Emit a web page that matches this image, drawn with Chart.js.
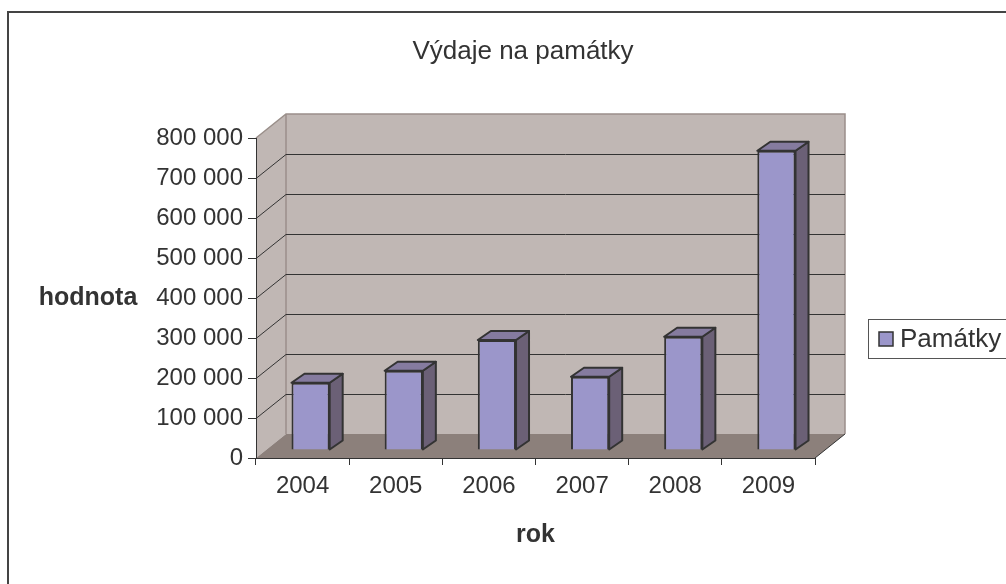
<!DOCTYPE html>
<html>
<head>
<meta charset="utf-8">
<script src="https://cdn.jsdelivr.net/npm/chart.js@4.4.1/dist/chart.umd.min.js"></script>
<style>
    html, body { margin: 0; padding: 0; background: #fff; }
</style>
</head>
<body>
<canvas id="chart-1" width="1006" height="584"></canvas>
<script>
// Data
const years = ["2004", "2005", "2006", "2007", "2008", "2009"];
const pamatky = [168000, 198000, 275000, 183000, 283000, 748000];
const yTickValues = [0, 100000, 200000, 300000, 400000, 500000, 600000, 700000, 800000];
const seriesLabel = "Památky";
const chartTitle = "Výdaje na památky";
const xTitle = "rok";
const yTitle = "hodnota";

const FONT = "'Liberation Sans', Arial, sans-serif";
const TEXT = "#333333";

// 3D look: depth of the walls, shift of the bar row, depth of a bar
const WALL_DX = 30, WALL_DY = -24;
const ROW_DX = 8, ROW_DY = -8;
const BAR_DX = 13, BAR_DY = -9;

Chart.defaults.font.family = FONT;

function fmt(v) {
    return String(v).replace(/\B(?=(\d{3})+(?!\d))/g, " ");
}

// walls, floor and grid behind everything
const walls = {
    id: "walls",
    beforeDraw(chart) {
        const { ctx, chartArea: a, scales: { y } } = chart;
        const L = a.left, R = a.right, T = a.top, B = a.bottom;
        ctx.save();
        ctx.fillStyle = "#fff";
        ctx.fillRect(0, 0, chart.width, chart.height);

        // back wall
        ctx.fillStyle = "#c0b7b4";
        ctx.fillRect(L + WALL_DX, T + WALL_DY, R - L, B - T);
        // left wall
        ctx.beginPath();
        ctx.moveTo(L, T);
        ctx.lineTo(L + WALL_DX, T + WALL_DY);
        ctx.lineTo(L + WALL_DX, B + WALL_DY);
        ctx.lineTo(L, B);
        ctx.closePath();
        ctx.fill();
        // floor
        ctx.fillStyle = "#8c807b";
        ctx.beginPath();
        ctx.moveTo(L, B);
        ctx.lineTo(L + WALL_DX, B + WALL_DY);
        ctx.lineTo(R + WALL_DX, B + WALL_DY);
        ctx.lineTo(R, B);
        ctx.closePath();
        ctx.fill();

        // wall edges
        ctx.strokeStyle = "#9a8f8a";
        ctx.lineWidth = 1.5;
        ctx.beginPath();
        ctx.moveTo(L, T);
        ctx.lineTo(L + WALL_DX, T + WALL_DY);
        ctx.lineTo(R + WALL_DX, T + WALL_DY);
        ctx.lineTo(R + WALL_DX, B + WALL_DY);
        ctx.moveTo(L + WALL_DX, T + WALL_DY);
        ctx.lineTo(L + WALL_DX, B + WALL_DY);
        ctx.stroke();

        // grid lines
        ctx.strokeStyle = "#333";
        ctx.lineWidth = 1;
        yTickValues.forEach(v => {
            if (v === 0 || v === yTickValues[yTickValues.length - 1]) return;
            const py = Math.round(y.getPixelForValue(v)) + 0.5;
            ctx.beginPath();
            ctx.moveTo(L, py);
            ctx.lineTo(L + WALL_DX, py + WALL_DY);
            ctx.lineTo(R + WALL_DX, py + WALL_DY);
            ctx.stroke();
        });
        // floor right edge
        ctx.beginPath();
        ctx.moveTo(R, B);
        ctx.lineTo(R + WALL_DX, B + WALL_DY);
        ctx.stroke();
        ctx.restore();
    }
};

// shift the bar row back and add top / side faces
const bars3d = {
    id: "bars3d",
    beforeDatasetsDraw(chart) {
        chart.ctx.save();
        chart.ctx.translate(ROW_DX, ROW_DY);
    },
    afterDatasetsDraw(chart) {
        const ctx = chart.ctx;
        chart.getDatasetMeta(0).data.forEach(bar => {
            const { x, y, base, width } = bar.getProps(["x", "y", "base", "width"], true);
            const l = x - width / 2, r = x + width / 2;
            ctx.lineWidth = 2;
            ctx.lineJoin = "round";
            ctx.strokeStyle = "#333";
            // side
            ctx.fillStyle = "#6b6076";
            ctx.beginPath();
            ctx.moveTo(r, y);
            ctx.lineTo(r + BAR_DX, y + BAR_DY);
            ctx.lineTo(r + BAR_DX, base + BAR_DY);
            ctx.lineTo(r, base);
            ctx.closePath();
            ctx.fill();
            ctx.stroke();
            // top
            ctx.fillStyle = "#857b9f";
            ctx.beginPath();
            ctx.moveTo(l, y);
            ctx.lineTo(l + BAR_DX, y + BAR_DY);
            ctx.lineTo(r + BAR_DX, y + BAR_DY);
            ctx.lineTo(r, y);
            ctx.closePath();
            ctx.fill();
            ctx.stroke();
        });
        ctx.restore();
    }
};

// title, horizontal y title, legend box and outer frame
const extras = {
    id: "extras",
    afterDraw(chart) {
        const ctx = chart.ctx;
        const ds = chart.data.datasets[0];
        ctx.save();
        ctx.fillStyle = TEXT;
        ctx.textAlign = "center";
        ctx.textBaseline = "middle";
        ctx.font = "26px " + FONT;
        ctx.fillText(chartTitle, 523, 52);
        ctx.font = "bold 25px " + FONT;
        ctx.fillText(yTitle, 88, 298);

        // legend
        ctx.strokeStyle = "#555";
        ctx.lineWidth = 1;
        ctx.strokeRect(868.5, 319.5, 160, 39);
        ctx.fillStyle = ds.backgroundColor;
        ctx.fillRect(879, 332, 14, 14);
        ctx.strokeStyle = "#333";
        ctx.lineWidth = 1.5;
        ctx.strokeRect(879, 332, 14, 14);
        ctx.fillStyle = TEXT;
        ctx.font = "26px " + FONT;
        ctx.textAlign = "left";
        ctx.fillText(ds.label, 900, 340);

        // outer frame
        ctx.strokeStyle = "#444";
        ctx.lineWidth = 2;
        ctx.strokeRect(8, 12, 1020, 600);
        ctx.restore();
    }
};

const ctx1 = document.getElementById("chart-1").getContext("2d");
const barChart = new Chart(ctx1, {
    type: "bar",
    data: {
        labels: years,
        datasets: [{
            label: seriesLabel,
            data: pamatky,
            backgroundColor: "#9b96ca",
            borderColor: "#333",
            borderWidth: 2,
            barPercentage: 0.41,
            categoryPercentage: 1,
        }],
    },
    options: {
        responsive: false,
        animation: false,
        devicePixelRatio: 1,
        layout: { padding: { top: 138, right: 191, bottom: 0, left: 0 } },
        plugins: {
            legend: { display: false },
            tooltip: { enabled: false },
            title: { display: false },
        },
        scales: {
            x: {
                grid: { drawOnChartArea: false, drawTicks: true, tickLength: 7, color: "#333", offset: true },
                border: { color: "#333", width: 1 },
                ticks: { color: TEXT, font: { size: 24 }, padding: 7, maxRotation: 0 },
                title: { display: true, text: xTitle, color: TEXT, font: { size: 25, weight: "bold" }, padding: { top: 0, bottom: 34 } },
                afterFit(s) { s.height = 126; },
            },
            y: {
                min: 0,
                max: 800000,
                grid: { drawOnChartArea: false, drawTicks: true, tickLength: 8, color: "#333" },
                border: { color: "#333", width: 1 },
                ticks: { color: TEXT, font: { size: 24 }, padding: 5, callback: v => fmt(v) },
                afterBuildTicks(s) { s.ticks = yTickValues.map(v => ({ value: v })); },
                afterFit(s) { s.width = 256; },
            },
        },
    },
    plugins: [walls, bars3d, extras],
});
</script>
</body>
</html>
